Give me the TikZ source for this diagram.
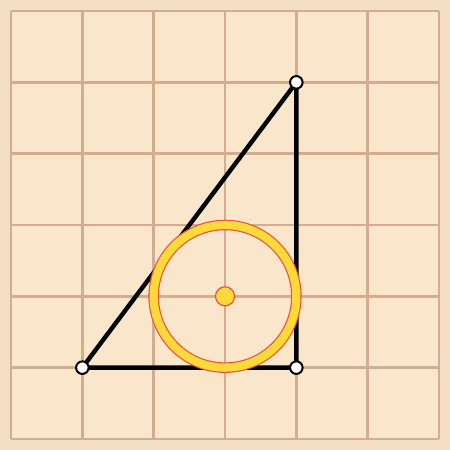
\documentclass[tikz,border=0pt]{standalone}
\begin{document}
\begin{tikzpicture}[x=1cm,y=1cm,
  gridline/.style={draw=gridc, line width=1.05pt},
  edge/.style={draw=black, line width=1.75pt, line cap=round, line join=round},
  vertex/.style={circle, draw=black, fill=white, line width=0.8pt, minimum size=5pt, inner sep=0pt},
  centerdot/.style={circle, draw=ringred, fill=ringyellow, line width=0.45pt, minimum size=7.6pt, inner sep=0pt}]
\definecolor{outerbg}{HTML}{F2DFC3}
\definecolor{innerbg}{HTML}{FAE6CB}
\definecolor{gridc}{HTML}{D4AD8F}
\definecolor{ringyellow}{HTML}{FDDA3A}
\definecolor{ringred}{HTML}{EF4B3A}
\fill[outerbg] (-0.1546,-0.1546) rectangle (6.1546,6.1546);
\useasboundingbox (-0.1546,-0.1546) rectangle (6.1546,6.1546);
\fill[innerbg] (0,0) rectangle (6,6);
\foreach \i in {0,...,6} {
  \draw[gridline] (\i,0) -- (\i,6);
  \draw[gridline] (0,\i) -- (6,\i);
}
\coordinate (A) at (1,1);
\coordinate (B) at (4,5);
\coordinate (C) at (4,1);
\coordinate (O) at (3,2);
\draw[edge] (A) -- (B) -- (C) -- cycle;
\draw[ringred, line width=4.2pt] (O) circle[radius=1];
\draw[ringyellow, line width=3.3pt] (O) circle[radius=1];
\node[centerdot] (o) at (O) {};
\node[vertex] (a) at (A) {};
\node[vertex] (b) at (B) {};
\node[vertex] (c) at (C) {};
\end{tikzpicture}
\end{document}
